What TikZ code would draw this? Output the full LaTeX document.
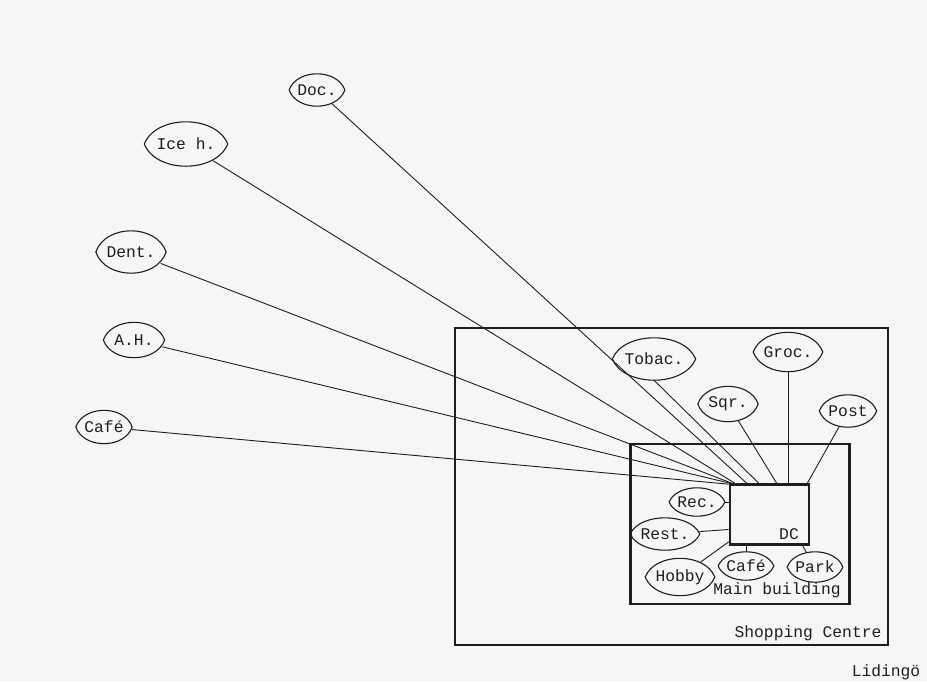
\documentclass[tikz,border=0pt]{standalone}
\usepackage{fontspec}
\setmonofont{Liberation Mono}
\usetikzlibrary{shapes.geometric,calc}
\newcommand\mylblfont{\ttfamily\fontsize{16.3}{18}\selectfont}
\definecolor{ink}{HTML}{1E1E1E}
\definecolor{paper}{HTML}{F6F6F6}
\begin{document}
\begin{tikzpicture}[x=1pt,y=-1pt,
  lens/.style={ellipse, inner sep=0pt, font=\mylblfont, text=ink},
  lensline/.style={draw=ink, line width=1.1pt},
  box/.style={rectangle, draw=ink, line width=2.7pt, inner sep=0pt},
  conn/.style={draw=ink, line width=0.9pt},
  lbl/.style={font=\mylblfont, text=ink, inner sep=0pt}]
\fill[paper] (0,0) rectangle (927,681);
\useasboundingbox (0,0) rectangle (927,681);
% boxes
\node[box, minimum width=433, minimum height=317] (sc) at (671.5,486.5) {};
\node[box, minimum width=219, minimum height=160] (mb) at (740,524) {};
\node[box, minimum width=79, minimum height=60] (dc) at (769.5,514.5) {};
\node[lbl] (sclbl) at (808,633) {Shopping Centre};
\node[lbl] (mblbl) at (777,590) {Main building};
\node[lbl] (dclbl) at (789,534) {DC};
\node[lbl] (lid) at (886,672) {Lidingö};
% lens nodes
\node[lens, minimum width=52, minimum height=32] (doc) at (317,90) {Doc.};
\node[lens, minimum width=72, minimum height=44] (ice) at (186,144) {Ice h.};
\node[lens, minimum width=70, minimum height=42] (dent) at (131,252) {Dent.};
\node[lens, minimum width=61, minimum height=35] (ah) at (134,340) {A.H.};
\node[lens, minimum width=56, minimum height=33] (cafeL) at (104,427) {Café};
\node[lens, minimum width=66, minimum height=42] (tob) at (654,359) {Tobac.};
\node[lens, minimum width=66, minimum height=39] (groc) at (788,352) {Groc.};
\node[lens, minimum width=60, minimum height=35] (sqr) at (728,404) {Sqr.};
\node[lens, minimum width=57, minimum height=32] (post) at (848,411) {Post};
\node[lens, minimum width=54, minimum height=28] (rec) at (697,502) {Rec.};
\node[lens, minimum width=64, minimum height=32] (rest) at (665,534) {Rest.};
\node[lens, minimum width=69, minimum height=37] (hob) at (680,577) {Hobby};
\node[lens, minimum width=52, minimum height=28] (cafe) at (746,566) {Café};
\node[lens, minimum width=55, minimum height=30] (park) at (815,567) {Park};
% lens outlines
\foreach \nm in {doc,ice,dent,ah,cafeL,tob,groc,sqr,post,rec,rest,hob,cafe,park}
  \draw[lensline] let \p1=(\nm.west),\p2=(\nm.east),\p3=(\nm.north),\p4=(\nm.south),
      \n1={0.6667*(\y3-\y4)}, \n2={0.14*(\x2-\x1)} in
   (\p1) .. controls (\x1+\n2,\y1+\n1) and (\x2-\n2,\y2+\n1) .. (\p2)
         .. controls (\x2-\n2,\y2-\n1) and (\x1+\n2,\y1-\n1) .. (\p1) -- cycle;
% end points on DC
\coordinate (eCafeL) at ($(dc.north west)+(0,1)$);
\coordinate (eAh) at ($(dc.north west)+(1,0)$);
\coordinate (eDent) at ($(dc.north west)+(3,0)$);
\coordinate (eIce) at ($(dc.north west)+(6,0)$);
\coordinate (eDoc) at ($(dc.north west)+(18,0)$);
\coordinate (eTob) at ($(dc.north west)+(30,0)$);
\coordinate (eSqr) at ($(dc.north west)+(48,0)$);
\coordinate (ePost) at ($(dc.north east)+(-3,0)$);
\coordinate (eRest) at ($(dc.west)+(0,15)$);
\coordinate (eHob) at ($(dc.south west)+(0,-4)$);
\coordinate (ePark) at ($(dc.south west)+(74,0)$);
% connectors
\draw[conn] (doc) -- (eDoc);
\draw[conn] (ice) -- (eIce);
\draw[conn] (dent) -- (eDent);
\draw[conn] (ah) -- (eAh);
\draw[conn] (cafeL) -- (eCafeL);
\draw[conn] (tob.south) -- (eTob);
\draw[conn] (sqr) -- (eSqr);
\draw[conn] (groc.south) -- (groc.south |- dc.north);
\draw[conn] (post) -- (ePost);
\draw[conn] (rec.east) -- (rec.east -| dc.west);
\draw[conn] (rest) -- (eRest);
\draw[conn] (hob) -- (eHob);
\draw[conn] (cafe.north) -- (cafe.north |- dc.south);
\draw[conn] (park) -- (ePark);
\end{tikzpicture}
\end{document}
